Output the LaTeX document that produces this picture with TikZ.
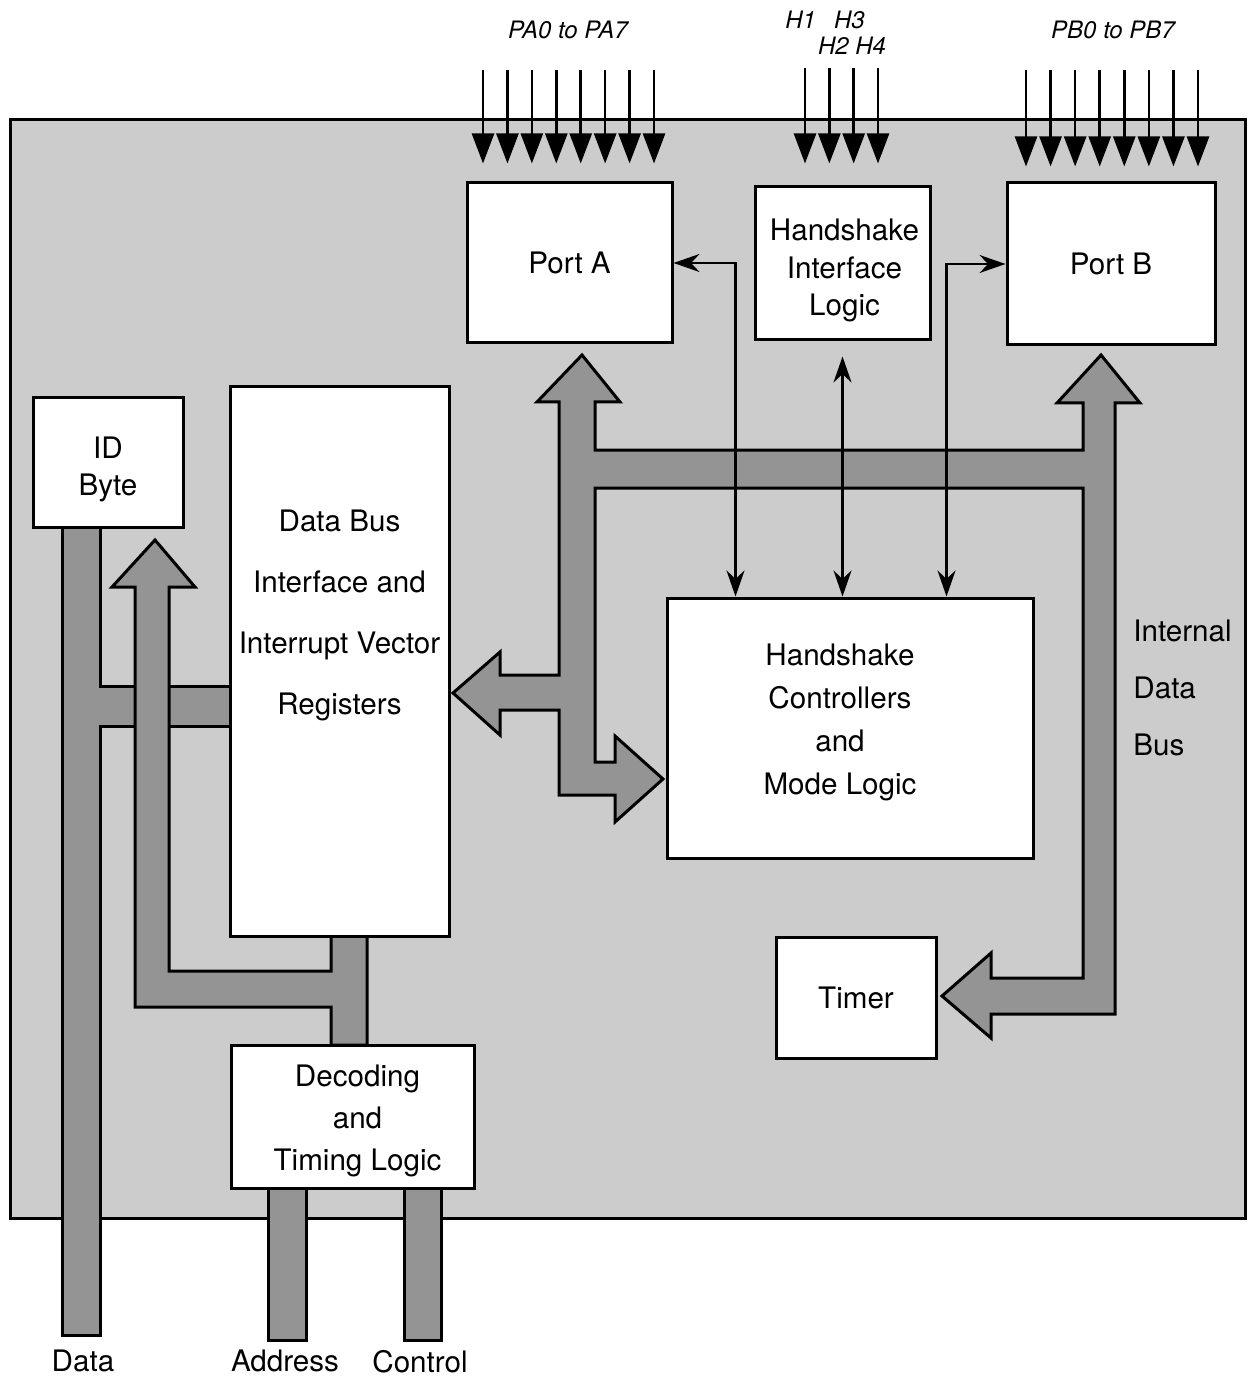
\documentclass[tikz,border=0pt]{standalone}
\usepackage{fontspec}
\setmainfont{TeX Gyre Heros}
\usetikzlibrary{arrows.meta, calc}
\definecolor{chipgray}{gray}{0.80}
\definecolor{busgray}{gray}{0.58}
\newcommand{\blockfont}[1]{\fontsize{14.8}{#1}\selectfont}

\begin{document}
\begin{tikzpicture}[x=0.5pt, y=-0.5pt,
  box/.style={draw, line width=1.5pt, fill=white, inner sep=0pt, align=center, font=\blockfont{18.75pt}},
  boxtext/.style={align=center, inner sep=0pt},
  bus/.style={draw, line width=1.5pt, fill=busgray, line join=miter},
  pin/.style={line width=1.3pt, -{Triangle[length=15pt, width=11pt]}},
  link/.style={line width=1.1pt, {Stealth[length=13pt, width=9pt]}-{Stealth[length=13pt, width=9pt]}},
  pinlabel/.style={font=\fontsize{12}{12}\selectfont\itshape, inner sep=0pt},
  buslabel/.style={font=\blockfont{18pt}, inner sep=0pt}]
  \useasboundingbox (0,0) rectangle (1248,1379);

  % Chip outline
  \draw[fill=chipgray, line width=1.5pt] (10,120) rectangle (1245,1218);

  % External data bus to ID byte and interface
  \draw[bus] (62,527) -- (62,1335) -- (100,1335) -- (100,726) -- (230,726)
    -- (230,686) -- (100,686) -- (100,527) -- cycle;
  % Decoding to interface and ID byte
  \draw[bus] (155,540) -- (195,587) -- (169,587) -- (169,971) -- (331,971)
    -- (331,936) -- (367,936) -- (367,1045) -- (331,1045) -- (331,1007)
    -- (135,1007) -- (135,587) -- (112,587) -- cycle;
  % Address and control
  \draw[bus] (268,1188) rectangle (306,1340);
  \draw[bus] (404,1188) rectangle (441,1340);

  % Internal data bus
  \draw[bus] (582,355) -- (620,402) -- (595,402) -- (595,450) -- (1083,450)
    -- (1083,403) -- (1057,403) -- (1101,355) -- (1140,403) -- (1115,403)
    -- (1115,1014) -- (991,1014) -- (991,1038) -- (942,996) -- (991,953)
    -- (991,978) -- (1083,978) -- (1083,488) -- (595,488) -- (595,762)
    -- (615,762) -- (615,736) -- (663,779) -- (615,822) -- (615,795)
    -- (559,795) -- (559,710) -- (500,710) -- (500,735) -- (453,693)
    -- (500,652) -- (500,675) -- (559,675) -- (559,402) -- (537,402) -- cycle;

  % Blocks
  \node[box, minimum width=102.5pt, minimum height=80pt] (porta) at (569.5,263) {Port A};
  \node[box, minimum width=87.5pt, minimum height=76.5pt] (hil) at (842.5,263.5) {};
  \node[boxtext, font=\blockfont{18.75pt}] (hiltxt) at ($(hil.center)+(2,7)$)
    {Handshake\\Interface\\Logic};
  \node[box, minimum width=104pt, minimum height=81pt] (portb) at (1111,264) {Port B};
  \node[box, minimum width=75pt, minimum height=64.5pt] (idbyte) at (108,462.5) {};
  \node[boxtext, font=\blockfont{18.75pt}] (idtxt) at ($(idbyte.center)+(0,7)$) {ID\\Byte};
  \node[box, minimum width=109.5pt, minimum height=274.5pt] (dbi) at (339.5,661.5) {};
  \node[boxtext, font=\blockfont{30.5pt}] (dbitxt) at ($(dbi.center)+(0,-46)$)
    {Data Bus\\Interface and\\Interrupt Vector\\Registers};
  \node[box, minimum width=183pt, minimum height=130pt] (ctrl) at (850,728) {};
  \node[boxtext, font=\blockfont{21.5pt}] (ctrltxt) at ($(ctrl.center)+(-10,-6)$)
    {Handshake\\Controllers\\and\\Mode Logic};
  \node[box, minimum width=80pt, minimum height=60.5pt] (timer) at (856,997.5) {Timer};
  \node[box, minimum width=121.5pt, minimum height=71.5pt] (decode) at (352.5,1116.5) {};
  \node[boxtext, font=\blockfont{21pt}] (dectxt) at ($(decode.center)+(5,4)$)
    {Decoding\\and\\Timing Logic};

  % Port pins
  \foreach \i in {0,...,7}{
    \coordinate (pa\i) at (483+24.43*\i, 70);
    \draw[pin, shorten >=9pt] (pa\i) -- (pa\i |- porta.north);
    \coordinate (pb\i) at (1026+24.57*\i, 70);
    \draw[pin, shorten >=7.5pt] (pb\i) -- (pb\i |- portb.north);
  }
  \foreach \i in {0,...,3}{
    \coordinate (h\i) at (805+24.33*\i, 68);
    \draw[pin, shorten >=11pt] (h\i) -- (h\i |- hil.north);
  }

  % Control lines
  \draw[link] (porta.east) -| ($(ctrl.north west)+(70,0)$);
  \draw[link, shorten <=7.5pt] (hil.south) -- (hil.south |- ctrl.north);
  \draw[link] (portb.west) -| ($(ctrl.north west)+(281,0)$);

  % Labels
  \node[pinlabel] (lblpa) at (568,30) {PA0 to PA7};
  \node[pinlabel] (lblh13) at (825,20) {H1\hspace{9pt}H3};
  \node[pinlabel] (lblh24) at (852,46) {H2 H4};
  \node[pinlabel] (lblpb) at (1113,30) {PB0 to PB7};
  \node[buslabel, align=left, anchor=west, font=\blockfont{28.5pt}] (lblbus)
    at (1133,688) {Internal\\Data\\Bus};
  \node[buslabel] (lbldata) at (83,1361) {Data};
  \node[buslabel] (lbladdr) at (285,1361) {Address};
  \node[buslabel] (lblctrl) at (420,1362) {Control};
\end{tikzpicture}
\end{document}
